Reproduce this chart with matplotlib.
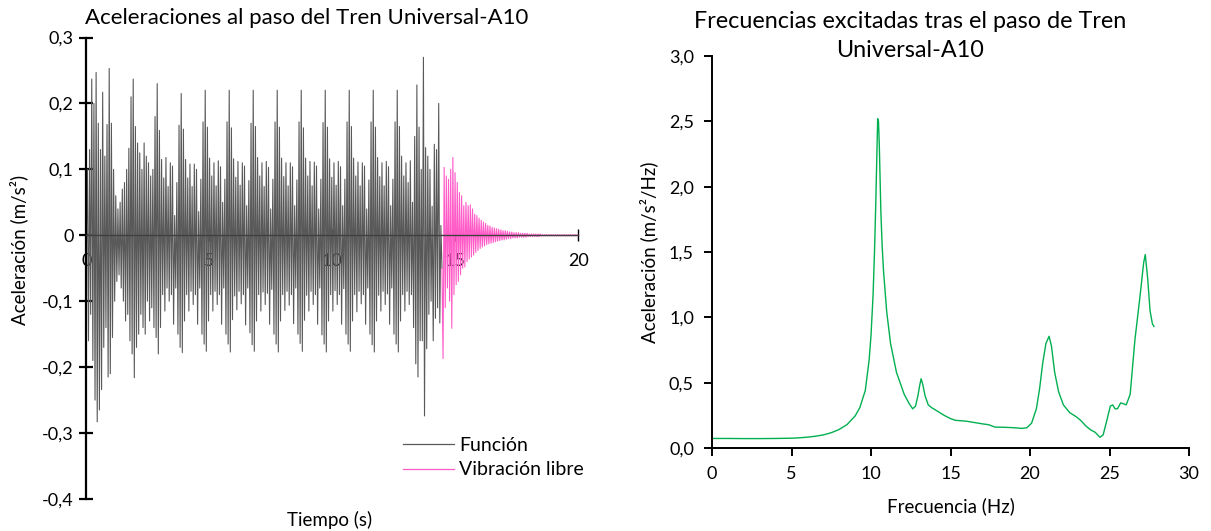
import numpy as np
import matplotlib.pyplot as plt

plt.rcParams["font.family"] = ["Lato", "DejaVu Sans"]

# ---------------- Aceleraciones al paso del tren ----------------
ciclo = 0.0887  # duración de una oscilación (s)

# picos positivos / negativos de cada oscilación, por grupos de bogie
funcion_max = [
    0.10, 0.13, 0.237, 0.20, 0.247, 0.17, 0.13, 0.217, 0.12, 0.168,
    0.253, 0.17, 0.10, 0.06, 0.04, 0.05, 0.07, 0.08, 0.10, 0.132, 0.21,
    0.237, 0.165, 0.14, 0.125, 0.10, 0.14, 0.12, 0.11, 0.09, 0.10, 0.18,
    0.23, 0.159, 0.115, 0.087, 0.118, 0.074, 0.11, 0.105, 0.03, 0.08, 0.167,
    0.215, 0.161, 0.115, 0.087, 0.108, 0.074, 0.108, 0.10, 0.036, 0.085, 0.172,
    0.22, 0.164, 0.117, 0.09, 0.11, 0.075, 0.113, 0.104, 0.05, 0.085, 0.172,
    0.22, 0.163, 0.116, 0.088, 0.112, 0.076, 0.11, 0.105, 0.045, 0.083, 0.17,
    0.22, 0.165, 0.118, 0.09, 0.11, 0.074, 0.112, 0.103, 0.04, 0.085, 0.172,
    0.22, 0.164, 0.117, 0.089, 0.11, 0.075, 0.11, 0.104, 0.045, 0.084, 0.172,
    0.22, 0.163, 0.117, 0.09, 0.112, 0.075, 0.111, 0.105, 0.04, 0.085, 0.171,
    0.22, 0.164, 0.116, 0.088, 0.11, 0.076, 0.112, 0.104, 0.045, 0.085, 0.172,
    0.22, 0.165, 0.117, 0.09, 0.111, 0.075, 0.11, 0.105, 0.04, 0.084, 0.172,
    0.22, 0.164, 0.118, 0.089, 0.11, 0.075, 0.112, 0.104, 0.045, 0.085, 0.172,
    0.22, 0.165, 0.12, 0.09, 0.11, 0.08, 0.113, 0.05, 0.15, 0.228, 0.164,
    0.10, 0.27, 0.133, 0.12, 0.10, 0.044, 0.138, 0.13, 0.20, 0.015,
]
funcion_min = [
    -0.16, -0.12, -0.19, -0.25, -0.283, -0.265, -0.234, -0.17, -0.14, -0.215,
    -0.21, -0.155, -0.10, -0.07, -0.06, -0.08, -0.10, -0.13, -0.12, -0.16, -0.18,
    -0.216, -0.17, -0.15, -0.12, -0.14, -0.15, -0.10, -0.13, -0.11, -0.14, -0.155,
    -0.18, -0.14, -0.09, -0.115, -0.08, -0.10, -0.09, -0.135, -0.08, -0.15, -0.17,
    -0.178, -0.13, -0.09, -0.115, -0.085, -0.105, -0.09, -0.135, -0.08, -0.15, -0.165,
    -0.176, -0.13, -0.09, -0.115, -0.085, -0.105, -0.09, -0.135, -0.08, -0.15, -0.165,
    -0.177, -0.128, -0.092, -0.113, -0.085, -0.104, -0.09, -0.136, -0.08, -0.148, -0.166,
    -0.176, -0.13, -0.09, -0.115, -0.086, -0.105, -0.088, -0.135, -0.082, -0.15, -0.165,
    -0.177, -0.13, -0.09, -0.114, -0.085, -0.106, -0.09, -0.134, -0.08, -0.15, -0.164,
    -0.176, -0.129, -0.091, -0.115, -0.085, -0.105, -0.09, -0.135, -0.08, -0.151, -0.165,
    -0.177, -0.13, -0.09, -0.115, -0.084, -0.105, -0.09, -0.135, -0.081, -0.15, -0.165,
    -0.176, -0.13, -0.09, -0.116, -0.085, -0.104, -0.09, -0.135, -0.08, -0.15, -0.166,
    -0.177, -0.13, -0.091, -0.115, -0.085, -0.105, -0.089, -0.135, -0.08, -0.15, -0.165,
    -0.177, -0.13, -0.09, -0.115, -0.085, -0.105, -0.09, -0.14, -0.195, -0.215, -0.16,
    -0.16, -0.274, -0.172, -0.12, -0.10, -0.16, -0.126, -0.11, -0.133, -0.05,
]
# vibración libre tras el paso (primero el valle, luego el pico)
libre_min = [
    -0.187, -0.11, -0.08, -0.10, -0.141, -0.09, -0.075, -0.07, -0.06, -0.05,
    -0.048, -0.04, -0.036, -0.033, -0.03, -0.026, -0.023, -0.02, -0.018, -0.016,
    -0.014, -0.013, -0.012, -0.011, -0.01, -0.009, -0.008, -0.007, -0.007, -0.006,
    -0.005, -0.005, -0.004, -0.004, -0.004, -0.003, -0.003, -0.003, -0.003, -0.002,
    -0.002, -0.002, -0.002, -0.002, -0.002, -0.001, -0.001, -0.001, -0.001, -0.001,
    -0.001, -0.001, -0.001, -0.001, -0.001, -0.001, -0.001, -0.001, -0.001, -0.001,
    -0.001, -0.001,
]
libre_max = [
    0.103, 0.09, 0.085, 0.10, 0.118, 0.095, 0.08, 0.065, 0.06, 0.045,
    0.05, 0.045, 0.046, 0.04, 0.032, 0.03, 0.026, 0.023, 0.02, 0.018,
    0.015, 0.014, 0.012, 0.011, 0.01, 0.009, 0.008, 0.007, 0.007, 0.006,
    0.005, 0.005, 0.004, 0.004, 0.004, 0.003, 0.003, 0.003, 0.003, 0.002,
    0.002, 0.002, 0.002, 0.002, 0.002, 0.001, 0.001, 0.001, 0.001, 0.001,
    0.001, 0.001, 0.001, 0.001, 0.001, 0.001, 0.001, 0.001, 0.001, 0.001,
    0.001, 0.001,
]

t_ticks = [0, 5, 10, 15, 20]
a_ticks = [0.3, 0.2, 0.1, 0.0, -0.1, -0.2, -0.3, -0.4]
a_labels = ["0,3", "0,2", "0,1", "0", "-0,1", "-0,2", "-0,3", "-0,4"]

# ---------------- Espectro de frecuencias ----------------
frecuencia = [
    0, 1, 2, 3, 4, 5, 5.5, 6, 6.5, 7, 7.5, 8, 8.5, 9, 9.3, 9.64, 9.88,
    10.0, 10.13, 10.22, 10.3, 10.37, 10.42, 10.47, 10.52, 10.62, 10.7, 10.79,
    10.99, 11.23, 11.6, 12.09, 12.4, 12.62, 12.8, 12.95, 13.05, 13.15, 13.25,
    13.4, 13.6, 13.8, 14.2, 14.6, 15.0, 15.3, 16, 16.5, 17, 17.4, 17.8, 18.5,
    19, 19.5, 19.8, 20.1, 20.4, 20.6, 20.8, 21.0, 21.2, 21.35, 21.55, 21.8,
    22.1, 22.5, 22.9, 23.2, 23.5, 23.8, 24.1, 24.4, 24.6, 24.85, 25.05, 25.2,
    25.35, 25.5, 25.7, 25.85, 26.05, 26.3, 26.6, 26.9, 27.15, 27.25, 27.4,
    27.55, 27.7, 27.8,
]
amplitud = [
    0.073, 0.073, 0.072, 0.072, 0.073, 0.075, 0.078, 0.083, 0.09, 0.10,
    0.117, 0.142, 0.18, 0.245, 0.31, 0.44, 0.67,
    0.86, 1.17, 1.50, 1.87, 2.25, 2.52, 2.50, 2.33, 1.81, 1.55, 1.35,
    1.04, 0.80, 0.58, 0.41, 0.34, 0.30, 0.32, 0.40, 0.47, 0.53, 0.49,
    0.40, 0.33, 0.31, 0.28, 0.25, 0.225, 0.212, 0.205, 0.195, 0.185, 0.178, 0.16, 0.158,
    0.155, 0.15, 0.155, 0.19, 0.30, 0.45, 0.65, 0.80, 0.855, 0.78, 0.58, 0.43,
    0.33, 0.27, 0.24, 0.21, 0.17, 0.14, 0.12, 0.082, 0.10, 0.22, 0.32, 0.33,
    0.30, 0.30, 0.345, 0.34, 0.33, 0.41, 0.83, 1.14, 1.42, 1.48, 1.30,
    1.05, 0.95, 0.93,
]

f_ticks = [0, 5, 10, 15, 20, 25, 30]
e_ticks = [0, 0.5, 1.0, 1.5, 2.0, 2.5, 3.0]
e_labels = ["0,0", "0,5", "1,0", "1,5", "2,0", "2,5", "3,0"]


def zigzag(primero, segundo):
    v = np.empty(2 * len(primero))
    v[0::2] = primero
    v[1::2] = segundo
    return v


paso = ciclo / 2
funcion = np.concatenate([[0.0], zigzag(funcion_max, funcion_min)])
t_funcion = np.arange(len(funcion)) * paso
libre = np.concatenate([[funcion[-1]], zigzag(libre_min, libre_max), [0.0]])
t_libre = t_funcion[-1] + np.arange(len(libre)) * paso

W, H = 1211, 531
fig = plt.figure(figsize=(W / 100, H / 100), dpi=100)

# --- gráfico izquierdo ---
ax1 = fig.add_axes([86.3 / W, 1 - 499 / H, 492 / W, 461.5 / H])
ax1.plot(t_funcion, funcion, color="#595959", lw=0.8, label="Función")
ax1.plot(t_libre, libre, color="#FF5CC8", lw=0.8, label="Vibración libre")
ax1.set_xlim(0, 20)
ax1.set_ylim(-0.4, 0.3)
ax1.spines["bottom"].set_position(("data", 0))
ax1.spines["top"].set_visible(False)
ax1.spines["right"].set_visible(False)
ax1.spines["left"].set_linewidth(1.6)
ax1.spines["bottom"].set_linewidth(1.0)
ax1.spines["bottom"].set_color("#404040")
ax1.set_xticks(t_ticks)
ax1.set_yticks(a_ticks, labels=a_labels)
ax1.tick_params(axis="y", direction="inout", length=10, width=1.6, pad=4, labelsize=13)
ax1.tick_params(axis="x", direction="inout", length=9, width=1.0, pad=8, labelsize=13)
ax1.set_ylabel("Aceleración (m/s²)", fontsize=13.5)
ax1.yaxis.set_label_coords((28 - 86.3) / 492, 0.54)
fig.text(330 / W, 1 - 520 / H, "Tiempo (s)", ha="center", va="center", fontsize=13.5)
fig.text(307 / W, 1 - 18 / H, "Aceleraciones al paso del Tren Universal-A10",
         ha="center", va="center", fontsize=16)
leg = ax1.legend(loc="upper left", bbox_to_anchor=(403 / W, 1 - 437 / H),
                 bbox_transform=fig.transFigure, frameon=False, fontsize=14,
                 handlelength=2.6, handletextpad=0.3, labelspacing=0.38,
                 borderpad=0, borderaxespad=0)
for linea in leg.get_lines():
    linea.set_linewidth(0.9)

# --- gráfico derecho ---
ax2 = fig.add_axes([712 / W, 1 - 448 / H, 477 / W, 392 / H])
ax2.plot(frecuencia, amplitud, color="#00B050", lw=1.0)
ax2.set_xlim(0, 30)
ax2.set_ylim(0, 3.0)
ax2.spines["top"].set_visible(False)
ax2.spines["right"].set_visible(False)
ax2.spines["left"].set_linewidth(1.4)
ax2.spines["bottom"].set_linewidth(1.4)
ax2.set_xticks(f_ticks)
ax2.set_yticks(e_ticks, labels=e_labels)
ax2.tick_params(direction="out", length=6, width=1.4, pad=7, labelsize=13)
ax2.set_xlabel("Frecuencia (Hz)", fontsize=13.5)
ax2.xaxis.set_label_coords(0.5, -(497 - 448) / 392)
ax2.set_ylabel("Aceleración (m/s²/Hz)", fontsize=13.5)
ax2.yaxis.set_label_coords((658 - 712) / 477, 0.5)
fig.text(910 / W, 1 - 36 / H, "Frecuencias excitadas tras el paso de Tren\nUniversal-A10",
         ha="center", va="center", fontsize=16.8, linespacing=1.45)

fig.savefig("out.png", dpi=100)
